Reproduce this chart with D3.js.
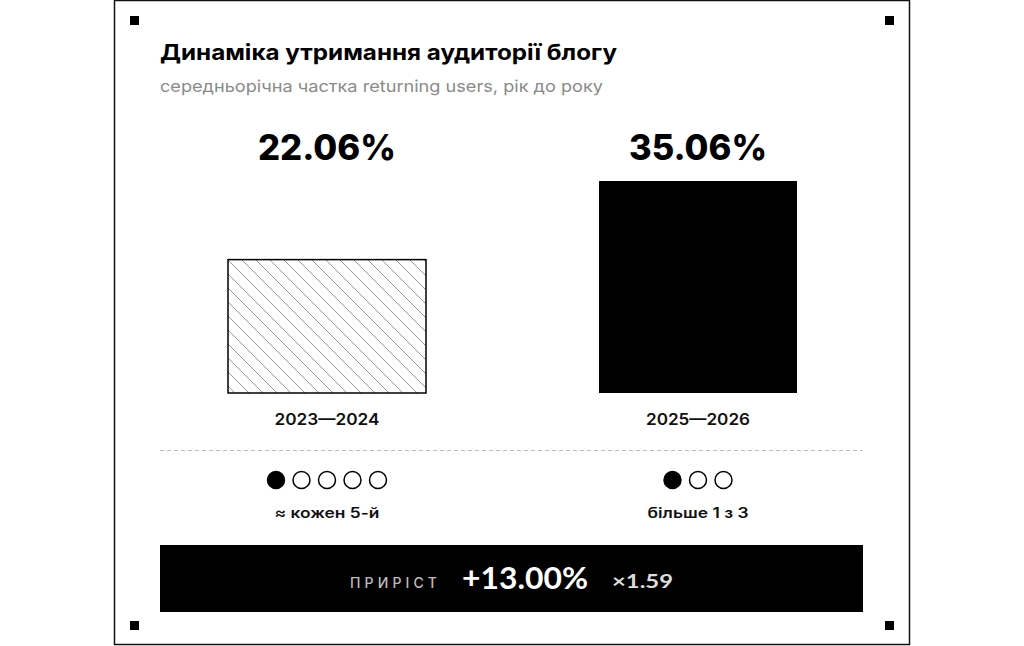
<!DOCTYPE html>
<html><head><meta charset="utf-8">
<script src="https://cdn.jsdelivr.net/npm/d3@7"></script>
<style>html,body{margin:0;padding:0;background:#fff}svg{display:block}</style>
</head><body>
<svg id="c" width="1024" height="646"></svg>
<script>
const periods = ["2023—2024", "2025—2026"];
const shares = [22.06, 35.06];
const ratioDots = [5, 3];
const ratioLabels = ["≈ кожен 5-й", "більше 1 з 3"];
const title = "Динаміка утримання аудиторії блогу";
const subtitle = "середньорічна частка returning users, рік до року";
const growthLabel = "ПРИРІСТ";
const growthValue = "+13.00%";
const growthRatio = "×1.59";

const F = "Inter, 'Open Sans', 'DejaVu Sans', sans-serif";
const svg = d3.select("#c");
const defs = svg.append("defs");
const pat = defs.append("pattern").attr("id","hatch").attr("patternUnits","userSpaceOnUse")
  .attr("width",14).attr("height",14).attr("x",228).attr("y",260);
pat.append("rect").attr("width",14).attr("height",14).attr("fill","#fff");
pat.append("path").attr("d","M-7,-7 L21,21 M-7,7 L7,21 M7,-7 L21,7")
  .attr("stroke","#999").attr("stroke-width",1);

function fit(sel, w, mode){ return sel.attr("textLength", w).attr("lengthAdjust", mode || "spacingAndGlyphs"); }

// frame
svg.append("rect").attr("x",114.5).attr("y",0.5).attr("width",795).attr("height",644)
  .attr("fill","#fff").attr("stroke","#111").attr("stroke-width",1.5);
[[130,16],[885,16],[130,621],[885,621]].forEach(([x,y])=>
  svg.append("rect").attr("x",x).attr("y",y).attr("width",9).attr("height",9).attr("fill","#000"));

fit(svg.append("text").attr("x",160).attr("y",60).text(title)
  .attr("font-family",F).attr("font-size",22).attr("font-weight",700).attr("fill","#000"), 457);
fit(svg.append("text").attr("x",160).attr("y",92).text(subtitle)
  .attr("font-family",F).attr("font-size",16.5).attr("font-weight",400).attr("fill","#8a8a8a"), 443);

const x = d3.scalePoint().domain(periods).range([327,698]);
const y = d3.scaleLinear().domain([0, d3.max(shares)]).range([393,181]);

const valW = [138, 138], catW = [105, 104], ratW = [105, 101];
const g = svg.append("g");
periods.forEach((p,i)=>{
  const bw = 198;
  const cx = x(p);
  g.append("rect").attr("x",cx-bw/2).attr("y",y(shares[i])).attr("width",bw)
    .attr("height",y(0)-y(shares[i]))
    .attr("fill", i===0 ? "url(#hatch)" : "#000")
    .attr("stroke","#000").attr("stroke-width", i===0?1.5:0);
  fit(g.append("text").attr("x",cx).attr("y",160).attr("text-anchor","middle")
    .text(d3.format(".2f")(shares[i])+"%")
    .attr("font-family",F).attr("font-size",35).attr("font-weight",800).attr("fill","#000"), valW[i]);
  fit(g.append("text").attr("x",cx).attr("y",425).attr("text-anchor","middle").text(p)
    .attr("font-family",F).attr("font-size",16).attr("font-weight",600).attr("fill","#111"), catW[i]);
  const n = ratioDots[i], sp = 25.5;
  d3.range(n).forEach(k=>{
    g.append("circle").attr("cx",cx + (k-(n-1)/2)*sp).attr("cy",480).attr("r",8.5)
      .attr("fill",k===0?"#000":"#fff").attr("stroke","#000").attr("stroke-width",1.5);
  });
  fit(g.append("text").attr("x",cx).attr("y",518).attr("text-anchor","middle").text(ratioLabels[i])
    .attr("font-family",F).attr("font-size",14.5).attr("font-weight",600).attr("fill","#111"), ratW[i]);
});

svg.append("line").attr("x1",160).attr("x2",863).attr("y1",450.5).attr("y2",450.5)
  .attr("stroke","#bbb").attr("stroke-width",1).attr("stroke-dasharray","4,3");

svg.append("rect").attr("x",160).attr("y",545).attr("width",703).attr("height",67).attr("fill","#000");
const bf = "Lato, 'Open Sans', sans-serif";
fit(svg.append("text").attr("x",350).attr("y",588).text(growthLabel)
  .attr("font-family",F).attr("font-size",14).attr("font-weight",500).attr("fill","#bdbdbd"), 87, "spacing");
fit(svg.append("text").attr("x",462).attr("y",589).text(growthValue)
  .attr("font-family",bf).attr("font-size",30).attr("font-weight",700).attr("fill","#fff"), 126);
fit(svg.append("text").attr("x",612).attr("y",588).text(growthRatio)
  .attr("font-family",bf).attr("font-size",19).attr("font-weight",700).attr("fill","#ddd"), 61);
</script>
</body></html>
